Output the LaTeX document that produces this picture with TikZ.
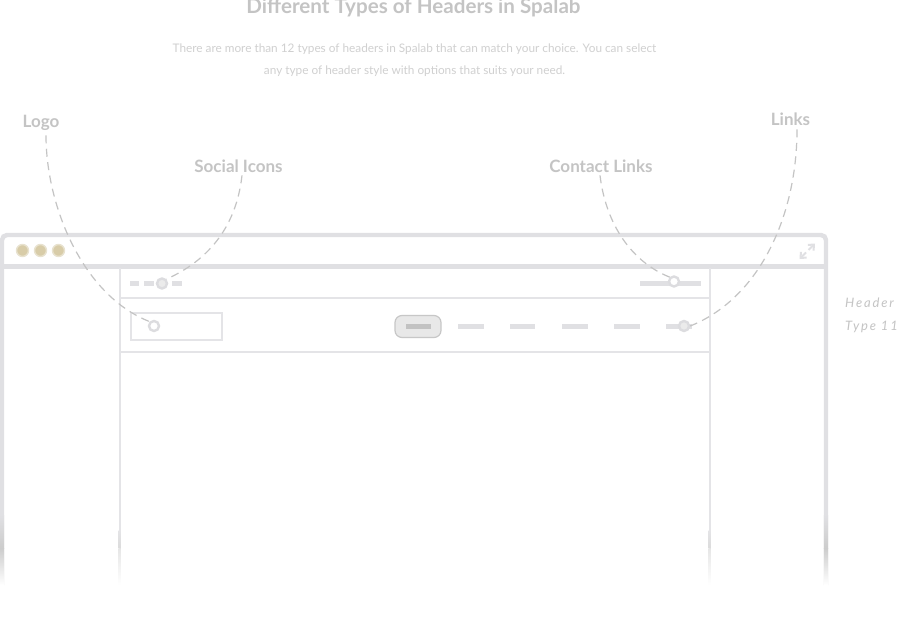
\documentclass[tikz,border=0pt]{standalone}
\usepackage{fontspec}
\setmainfont{Lato}
\newfontfamily\handfont[LetterSpace=14]{Lato Italic}
\usetikzlibrary{arrows.meta}
\definecolor{frameC}{HTML}{E0E0E3}
\definecolor{lineC}{HTML}{E4E4E7}
\definecolor{pinC}{HTML}{DCDCDF}
\definecolor{dashC}{HTML}{C4C4C4}
\definecolor{labelC}{HTML}{C4C4C4}
\definecolor{textC}{HTML}{D0D0D0}
\definecolor{dotC}{HTML}{D8CCA8}
\definecolor{dotR}{HTML}{E8E2CF}
\tikzset{
  pin/.style={circle,draw=pinC,line width=2.4pt,fill=white,inner sep=0pt,minimum size=10pt},
  tdot/.style={circle,draw=dotR,line width=1.4pt,fill=dotC,inner sep=0pt,minimum size=12pt},
  callout/.style={text=labelC,font=\fontsize{17}{20}\selectfont\bfseries,inner sep=0pt,anchor=base},
  curve/.style={dashC,line width=1.2pt,dash pattern=on 8pt off 5.5pt},
  bar/.style={frameC,line width=4.5pt},
  thin/.style={lineC,line width=2pt},
  heavy/.style={frameC,line width=4.4pt},
}
\begin{document}
\begin{tikzpicture}[x=1pt,y=-1pt]
\useasboundingbox (0,0) rectangle (900,623);
\fill[white] (0,0) rectangle (900,623);
% text
\node[text=labelC,font=\fontsize{20.6}{22}\selectfont\bfseries,inner sep=0pt,anchor=base] (title) at (413.5,13.5) {Different Types of Headers in Spalab};
\node[text=textC,font=\fontsize{11.8}{13}\selectfont,inner sep=0pt,anchor=base] (sub1) at (414.5,52.5) {There are more than 12 types of headers in Spalab that can match your choice. You can select};
\node[text=textC,font=\fontsize{11.8}{13}\selectfont,inner sep=0pt,anchor=base] (sub2) at (414.5,74.5) {any type of header style with options that suits your need.};
\node[callout] (logo) at (41,128) {Logo};
\node[callout] (social) at (238.5,172) {Social Icons};
\node[callout] (contact) at (601,172) {Contact Links};
\node[callout] (links) at (790.5,126) {Links};
\node[text=labelC,font=\fontsize{13}{14}\selectfont\handfont,inner sep=0pt,anchor=base west] (hdr1) at (845,307) {Header};
\node[text=labelC,font=\fontsize{13}{14}\selectfont\handfont,inner sep=0pt,anchor=base west] (hdr2) at (845,330) {Type 11};
% window
\draw[heavy,rounded corners=5pt] (2,585) -- (2,235) -- (826,235) -- (826,585);
\draw[heavy] (2,266.5) -- (826,266.5);
\draw[thin] (119.5,268) -- (119.5,585);
\draw[thin] (709.5,268) -- (709.5,585);
\draw[thin] (119.5,298) -- (709.5,298);
\draw[thin] (119.5,351.5) -- (709.5,351.5);
% bottom shade of the frame
\shade[top color=frameC,bottom color=black!20] (-0.2,515) rectangle (4.2,548);
\shade[top color=black!20,bottom color=white] (-0.2,548) rectangle (4.2,585);
\shade[top color=frameC,bottom color=black!20] (823.8,515) rectangle (828.2,548);
\shade[top color=black!20,bottom color=white] (823.8,548) rectangle (828.2,585);
\shade[top color=lineC,bottom color=black!14] (118.5,530) rectangle (120.5,548);
\shade[top color=black!10,bottom color=white] (118.5,548) rectangle (120.5,585);
\shade[top color=lineC,bottom color=black!14] (708.5,530) rectangle (710.5,548);
\shade[top color=black!10,bottom color=white] (708.5,548) rectangle (710.5,585);
% title bar
\node[tdot] (d1) at (22.5,250.5) {};
\node[tdot] (d2) at (40.5,250.5) {};
\node[tdot] (d3) at (58.5,250.5) {};
\coordinate (ex1) at (799.5,259);
\coordinate (ex2) at (806,252.5);
\coordinate (ex3) at (808.5,250);
\coordinate (ex4) at (815,243.5);
\draw[frameC,line width=2pt,-{Straight Barb[length=4.5pt,width=8pt]}] (ex2) -- (ex1);
\draw[frameC,line width=2pt,-{Straight Barb[length=4.5pt,width=8pt]}] (ex3) -- (ex4);
% top bar dashes
\draw[bar] (130,283.5) -- (139,283.5);
\draw[bar] (144,283.5) -- (154,283.5);
\draw[bar] (172,283.5) -- (182,283.5);
\draw[bar] (640,283.5) -- (701,283.5);
% logo box
\node[draw=lineC,line width=2pt,fill=white,minimum width=91pt,minimum height=27pt,inner sep=0pt] (logobox) at (176.5,326) {};
% nav
\node[draw=black!22,fill=black!9,line width=1.2pt,rounded corners=7pt,minimum width=46pt,minimum height=22pt,inner sep=0pt] (btn) at (418,326.5) {};
\draw[black!24,line width=4.5pt] (406,326.5) -- (431,326.5);
\draw[bar] (458,326.5) -- (484,326.5);
\draw[bar] (510,326.5) -- (535,326.5);
\draw[bar] (562,326.5) -- (588,326.5);
\draw[bar] (614,326.5) -- (640,326.5);
\draw[bar] (666,326.5) -- (692,326.5);
% pins
\node[pin] (plogo) at (154,326) {};
\node[pin,fill=black!8] (psocial) at (162,283.5) {};
\node[pin] (pcontact) at (674,281.5) {};
\node[pin,fill=black!8] (plinks) at (684,326) {};
% connectors
\draw[curve] (logo.south -| 46,0) ++(0,4) .. controls (46,205) and (82,295) .. (plogo.north west);
\draw[curve] (social.south -| 242,0) ++(0,3) .. controls (236,230) and (205,262) .. (psocial.north east);
\draw[curve] (contact.south -| 600,0) ++(0,3) .. controls (606,225) and (632,262) .. (pcontact.north west);
\draw[curve] (links.south -| 797,0) ++(0,3) .. controls (797,215) and (760,298) .. (plinks.east);
\end{tikzpicture}
\end{document}
